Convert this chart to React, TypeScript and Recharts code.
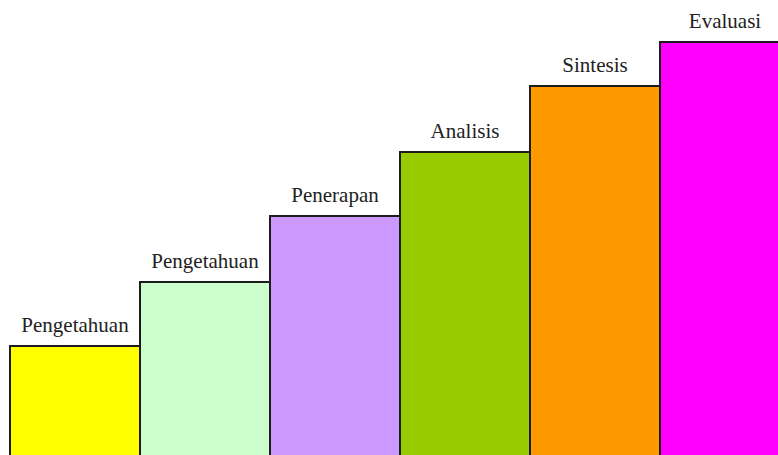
import React from 'react';
import { BarChart, Bar, XAxis, YAxis, Cell, LabelList } from 'recharts';

const levels = ['Pengetahuan', 'Pengetahuan', 'Penerapan', 'Analisis', 'Sintesis', 'Evaluasi'];
const heights = [114, 178, 244, 308, 374, 418];
const colors = ['#FFFF00', '#CCFFCC', '#CC99FF', '#99CC00', '#FF9900', '#FF00FF'];

const data = levels.map((name, i) => ({ key: `${name}-${i}`, name, value: heights[i] }));

export default function App() {
  return (
    <div style={{ position: 'absolute', left: 0, top: 0, width: 778, height: 455, overflow: 'hidden', background: '#fff' }}>
      <BarChart
        width={790}
        height={460}
        data={data}
        margin={{ top: 0, right: 0, left: 10, bottom: 0 }}
        barCategoryGap={0}
        barGap={0}
      >
        <XAxis dataKey="key" hide />
        <YAxis hide domain={[0, 460]} />
        <Bar dataKey="value" isAnimationActive={false} stroke="#1c1c1c" strokeWidth={2}>
          {data.map((d, i) => (
            <Cell key={d.key} fill={colors[i]} />
          ))}
          <LabelList
            dataKey="name"
            position="top"
            offset={14}
            style={{ fontFamily: '"Liberation Serif", "Times New Roman", serif', fontSize: 21, fill: '#222' }}
          />
        </Bar>
      </BarChart>
    </div>
  );
}
